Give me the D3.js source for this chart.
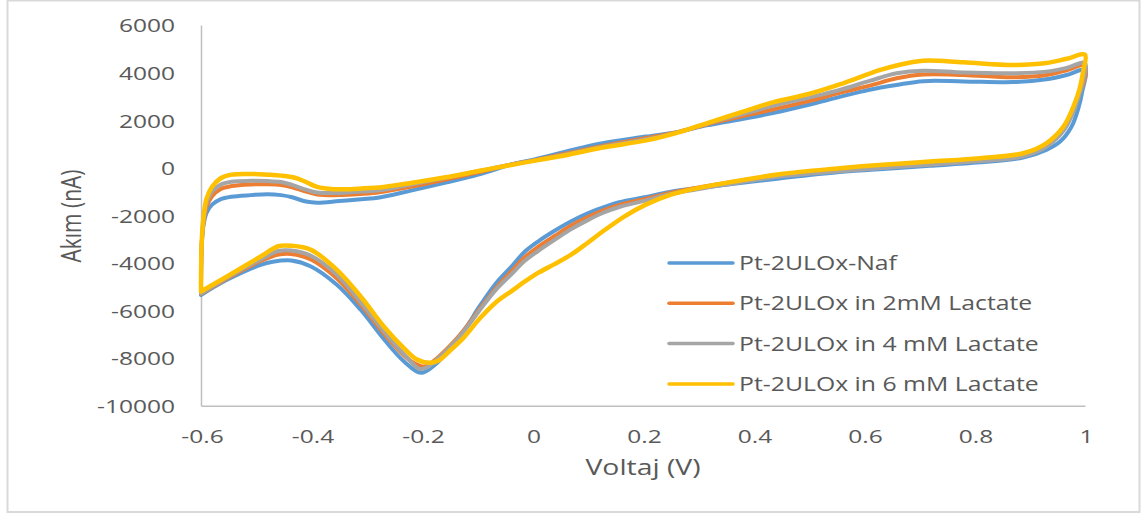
<!DOCTYPE html>
<html>
<head>
<meta charset="utf-8">
<script src="https://cdn.jsdelivr.net/npm/d3@7"></script>
<style>
  html, body { margin: 0; padding: 0; background: #fff; }
  svg { display: block; }
  text { font-family: "Open Sans", "Noto Sans", sans-serif; fill: #595959; }
</style>
</head>
<body>
<svg id="chart" width="1147" height="515"></svg>
<script>
// Cyclic voltammograms: each scan starts at -0.6 V, sweeps up to 1 V along the
// upper (anodic) branch and returns along the lower (cathodic) branch.
// Points are [voltage (V), current (nA)].
const nafScan = [
  [-0.600, -5350], [-0.599, -3500], [-0.596, -2500], [-0.590, -1900], [-0.580, -1550],
  [-0.565, -1330], [-0.545, -1220], [-0.510, -1150], [-0.480, -1110], [-0.455, -1150],
  [-0.435, -1240], [-0.410, -1420], [-0.390, -1470], [-0.350, -1400], [-0.310, -1320],
  [-0.277, -1250], [-0.220, -960], [-0.157, -620], [-0.100, -300], [-0.036, 150],
  [0.000, 330], [0.085, 820], [0.127, 1030], [0.206, 1310], [0.266, 1520],
  [0.315, 1780], [0.387, 2080], [0.435, 2300], [0.500, 2650], [0.556, 2980],
  [0.610, 3280], [0.659, 3480], [0.707, 3640], [0.780, 3630], [0.870, 3600],
  [0.930, 3720], [0.967, 3900], [1.000, 4100],
  [0.995, 3200], [0.988, 2500], [0.975, 1700], [0.955, 1100], [0.930, 750],
  [0.888, 430], [0.810, 230], [0.719, 80], [0.628, -60], [0.556, -180],
  [0.447, -450], [0.327, -780], [0.248, -1020], [0.206, -1230], [0.157, -1450],
  [0.127, -1680], [0.100, -1920], [0.070, -2250], [0.040, -2650], [0.010, -3100],
  [-0.015, -3550], [-0.036, -4100], [-0.066, -4850], [-0.096, -5830], [-0.120, -6700],
  [-0.150, -7600], [-0.175, -8250], [-0.202, -8620], [-0.232, -8150], [-0.268, -7230],
  [-0.311, -5970], [-0.354, -4920], [-0.401, -4150], [-0.437, -3900], [-0.470, -3950],
  [-0.492, -4080], [-0.553, -4710], [-0.600, -5350]
];

const lactate2Scan = [
  [-0.600, -5300], [-0.599, -3400], [-0.596, -2400], [-0.590, -1650], [-0.580, -1200],
  [-0.565, -900], [-0.545, -770], [-0.510, -700], [-0.480, -690], [-0.455, -720],
  [-0.435, -820], [-0.410, -1000], [-0.390, -1120], [-0.350, -1150], [-0.310, -1100],
  [-0.277, -1030], [-0.220, -800], [-0.157, -500], [-0.100, -200], [-0.036, 150],
  [0.000, 300], [0.085, 720], [0.127, 920], [0.206, 1250], [0.266, 1520],
  [0.315, 1820], [0.387, 2200], [0.435, 2450], [0.500, 2800], [0.556, 3150],
  [0.610, 3450], [0.659, 3760], [0.707, 3920], [0.780, 3900], [0.870, 3800],
  [0.930, 3900], [0.967, 4100], [1.000, 4300],
  [0.995, 3400], [0.990, 3200], [0.979, 2400], [0.961, 1600], [0.930, 920],
  [0.888, 500], [0.810, 300], [0.719, 150], [0.628, 20], [0.556, -100],
  [0.447, -330], [0.327, -720], [0.248, -1060], [0.206, -1300], [0.157, -1560],
  [0.127, -1800], [0.100, -2070], [0.070, -2430], [0.040, -2870], [0.010, -3330],
  [-0.015, -3780], [-0.036, -4300], [-0.066, -5050], [-0.096, -5950], [-0.125, -6850],
  [-0.150, -7500], [-0.175, -8050], [-0.195, -8350], [-0.215, -8200], [-0.232, -7900],
  [-0.268, -7000], [-0.311, -5750], [-0.354, -4650], [-0.401, -3850], [-0.437, -3620],
  [-0.460, -3650], [-0.492, -3920], [-0.553, -4650], [-0.600, -5300]
];

const lactate4Scan = [
  [-0.600, -5280], [-0.599, -3350], [-0.596, -2300], [-0.590, -1500], [-0.580, -1000],
  [-0.565, -720], [-0.545, -590], [-0.510, -550], [-0.480, -560], [-0.455, -600],
  [-0.435, -720], [-0.410, -920], [-0.390, -1040], [-0.350, -1060], [-0.310, -1000],
  [-0.277, -950], [-0.220, -700], [-0.157, -420], [-0.100, -150], [-0.036, 150],
  [0.000, 290], [0.085, 680], [0.127, 880], [0.206, 1200], [0.266, 1510],
  [0.315, 1850], [0.387, 2300], [0.435, 2600], [0.500, 2950], [0.556, 3270],
  [0.610, 3650], [0.659, 3970], [0.707, 4080], [0.780, 4000], [0.870, 3970],
  [0.930, 4040], [0.967, 4200], [1.000, 4400],
  [0.995, 3500], [0.990, 3100], [0.979, 2350], [0.961, 1550], [0.930, 880],
  [0.888, 480], [0.810, 280], [0.719, 130], [0.628, -20], [0.556, -150],
  [0.447, -370], [0.327, -790], [0.248, -1110], [0.206, -1370], [0.157, -1650],
  [0.127, -1900], [0.100, -2200], [0.070, -2580], [0.040, -3030], [0.010, -3500],
  [-0.015, -3930], [-0.036, -4430], [-0.066, -5120], [-0.096, -6000], [-0.125, -6900],
  [-0.150, -7550], [-0.175, -8100], [-0.192, -8400], [-0.205, -8450], [-0.232, -7850],
  [-0.268, -6900], [-0.311, -5650], [-0.354, -4500], [-0.401, -3700], [-0.437, -3480],
  [-0.460, -3500], [-0.492, -3850], [-0.553, -4620], [-0.600, -5280]
];

const lactate6Scan = [
  [-0.600, -5200], [-0.599, -3300], [-0.596, -2200], [-0.590, -1300], [-0.580, -800],
  [-0.565, -450], [-0.545, -290], [-0.510, -260], [-0.480, -290], [-0.455, -330],
  [-0.430, -420], [-0.410, -600], [-0.390, -800], [-0.360, -900], [-0.330, -900],
  [-0.305, -860], [-0.277, -830], [-0.220, -640], [-0.157, -400], [-0.100, -150],
  [-0.036, 130], [0.000, 280], [0.067, 560], [0.127, 850], [0.206, 1150],
  [0.266, 1500], [0.315, 1870], [0.387, 2400], [0.435, 2750], [0.500, 3100],
  [0.556, 3500], [0.628, 4100], [0.659, 4300], [0.707, 4500], [0.780, 4430],
  [0.870, 4320], [0.930, 4400], [0.967, 4580], [1.000, 4750],
  [0.997, 4100], [0.990, 3300], [0.979, 2570], [0.961, 1730], [0.930, 1030],
  [0.888, 610], [0.810, 400], [0.719, 260], [0.628, 120], [0.556, -20],
  [0.447, -270], [0.327, -730], [0.290, -900], [0.248, -1150], [0.206, -1540],
  [0.166, -2050], [0.127, -2680], [0.100, -3150], [0.070, -3650], [0.040, -4050],
  [0.010, -4420], [-0.015, -4800], [-0.036, -5150], [-0.066, -5650], [-0.096, -6350],
  [-0.125, -7150], [-0.150, -7700], [-0.170, -8100], [-0.185, -8200], [-0.210, -8050],
  [-0.232, -7600], [-0.268, -6700], [-0.311, -5410], [-0.354, -4290], [-0.401, -3450],
  [-0.437, -3280], [-0.460, -3300], [-0.492, -3730], [-0.553, -4570], [-0.600, -5200]
];

const seriesNames = [
  "Pt-2ULOx-Naf",
  "Pt-2ULOx in 2mM Lactate",
  "Pt-2ULOx in 4 mM Lactate",
  "Pt-2ULOx in 6 mM Lactate"
];
const seriesColors = ["#5B9BD5", "#ED7D31", "#A5A5A5", "#FFC000"];
const seriesScans = [nafScan, lactate2Scan, lactate4Scan, lactate6Scan];

const xTicks = [-0.6, -0.4, -0.2, 0, 0.2, 0.4, 0.6, 0.8, 1];
const xTickLabels = ["-0.6", "-0.4", "-0.2", "0", "0.2", "0.4", "0.6", "0.8", "1"];
const yTicks = [6000, 4000, 2000, 0, -2000, -4000, -6000, -8000, -10000];
const yTickLabels = ["6000", "4000", "2000", "0", "-2000", "-4000", "-6000", "-8000", "-10000"];

const xTitle = "Voltaj (V)";
const yTitle = "Akım (nA)";

// ---- layout ----
const svg = d3.select("#chart");
const W = 1147, H = 515;
const plot = { left: 201, right: 1085, top: 25, bottom: 405.7 };
const stretch = 1.29;        // wide lettering used for axis text
const legendStretch = 1.24;

svg.append("rect")
  .attr("x", 0).attr("y", 0).attr("width", W).attr("height", H)
  .attr("fill", "#fff");

svg.append("rect")
  .attr("x", 7.5).attr("y", 0.5).attr("width", 1132).attr("height", 511.5)
  .attr("fill", "none").attr("stroke", "#D9D9D9").attr("stroke-width", 2);

const x = d3.scaleLinear().domain([-0.6, 1]).range([plot.left, plot.right]);
const y = d3.scaleLinear().domain([-10000, 6000]).range([plot.bottom, plot.top]);

// ---- axes ----
const yAxis = svg.append("g")
  .attr("transform", `translate(${plot.left},0)`)
  .call(d3.axisLeft(y).tickValues(yTicks)
    .tickFormat((d, i) => yTickLabels[i]).tickSize(0).tickPadding(0));
yAxis.select(".domain").attr("stroke", "#BFBFBF").attr("stroke-width", 1.5);
yAxis.selectAll(".tick text")
  .attr("x", null).attr("dy", "0.36em")
  .attr("text-anchor", "end")
  .attr("transform", `translate(-26,0) scale(${stretch},1)`)
  .style("font-size", "19px").style("fill", "#595959");

const xAxis = svg.append("g")
  .attr("transform", `translate(0,${plot.bottom})`)
  .call(d3.axisBottom(x).tickValues(xTicks)
    .tickFormat((d, i) => xTickLabels[i]).tickSize(0).tickPadding(0));
xAxis.select(".domain").attr("stroke", "#BFBFBF").attr("stroke-width", 1.5);
xAxis.selectAll(".tick text")
  .attr("y", null).attr("dy", "0.36em")
  .attr("transform", `translate(1,30) scale(${stretch},1)`)
  .style("font-size", "19px").style("fill", "#595959");

// axis titles
svg.append("text")
  .attr("text-anchor", "middle")
  .attr("transform", `translate(643,475) scale(${stretch},1)`)
  .style("font-size", "22px")
  .text(xTitle);

svg.append("text")
  .attr("text-anchor", "middle")
  .attr("transform", `translate(81,216) scale(${stretch},1) rotate(-90)`)
  .style("font-size", "21px")
  .text(yTitle);

// ---- voltammogram loops ----
const line = d3.line()
  .x(d => x(d[0]))
  .y(d => y(d[1]))
  .curve(d3.curveCatmullRom.alpha(0.5));

svg.append("g")
  .selectAll("path")
  .data(seriesScans)
  .join("path")
  .attr("d", line)
  .attr("fill", "none")
  .attr("stroke", (d, i) => seriesColors[i])
  .attr("stroke-width", (d, i) => i === 3 ? 4.5 : 4)
  .attr("stroke-linejoin", "round")
  .attr("stroke-linecap", "round");

// ---- legend ----
const legend = svg.append("g").attr("transform", "translate(669,263)");
const rows = legend.selectAll("g")
  .data(seriesNames)
  .join("g")
  .attr("transform", (d, i) => `translate(0,${i * 40.3})`);
rows.append("line")
  .attr("x1", 0).attr("x2", 64).attr("y1", 0).attr("y2", 0)
  .attr("stroke", (d, i) => seriesColors[i])
  .attr("stroke-width", 3.5)
  .attr("stroke-linecap", "round");
rows.append("text")
  .attr("transform", `translate(70,7) scale(${legendStretch},1)`)
  .style("font-size", "20px")
  .text(d => d);
</script>
</body>
</html>
